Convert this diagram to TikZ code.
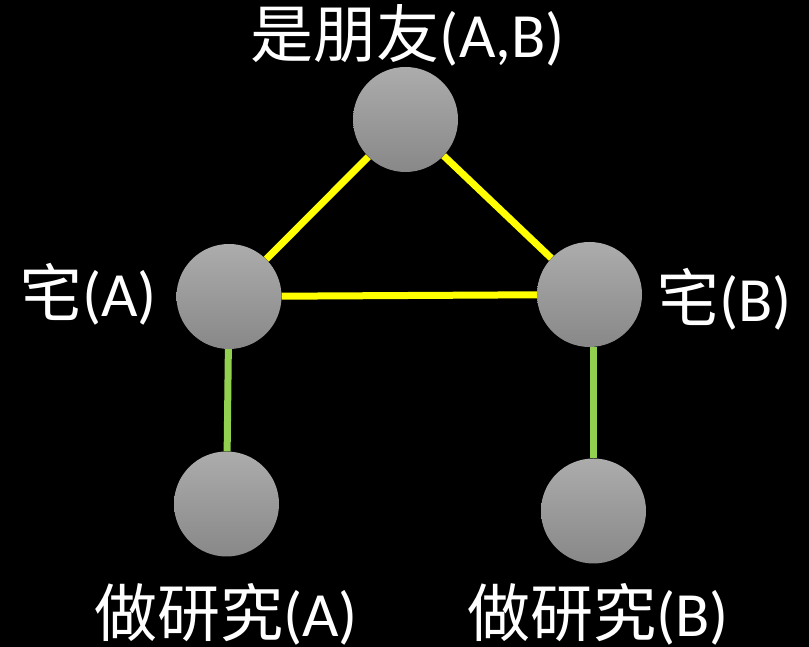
\documentclass[tikz,border=0pt]{standalone}
\usepackage{fontspec}
\setmainfont{Carlito}
\newfontfamily\cjk{Noto Sans CJK TC}
\begin{document}
\begin{tikzpicture}[x=1pt,y=1pt,
  ball/.style={circle, minimum size=105pt, inner sep=0pt,
    top color={rgb,255:red,172;green,172;blue,172},
    bottom color={rgb,255:red,136;green,136;blue,136}},
  lbl/.style={text=white, inner sep=0pt, anchor=base,
    font=\fontsize{63}{70}\selectfont},
  friend/.style={draw={rgb,255:red,255;green,255;blue,0}, line width=7pt},
  does/.style={draw={rgb,255:red,146;green,208;blue,80}, line width=7pt}]
  \fill[black] (0,0) rectangle (809,647);
  \useasboundingbox (0,0) rectangle (809,647);

  % people and the relation node
  \node[ball] (ab) at (405.5,527.5) {};
  \node[ball] (za) at (229,350.5) {};
  \node[ball] (zb) at (589.5,352.5) {};
  \node[ball] (ra) at (226.5,143) {};
  \node[ball] (rb) at (593.5,136) {};

  % connectors
  \draw[friend] (ab) -- (za);
  \draw[friend] (ab) -- (zb);
  \draw[friend] (za) -- (zb);
  \draw[does] (za) -- (ra);
  \draw[does] ([xshift=4pt]zb.south) -- (rb.north);

  % labels
  \node[lbl] (tab) at (408,589) {{\cjk 是朋友}(A,B)};
  \node[lbl] (tza) at (88,330) {{\cjk 宅}(A)};
  \node[lbl] (tzb) at (724,325) {{\cjk 宅}(B)};
  \node[lbl] (tra) at (226,10) {{\cjk 做研究}(A)};
  \node[lbl] (trb) at (598,10) {{\cjk 做研究}(B)};
\end{tikzpicture}
\end{document}
